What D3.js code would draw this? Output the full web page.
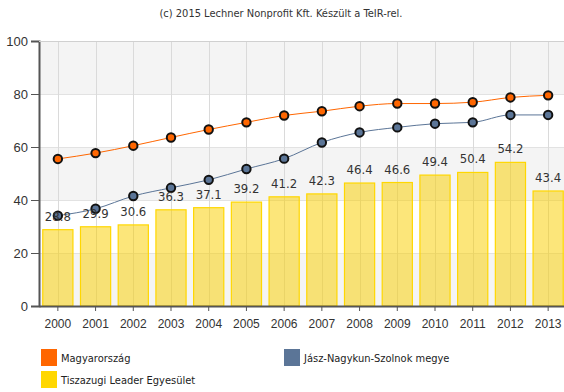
<!DOCTYPE html>
<html>
<head>
<meta charset="utf-8">
<script src="https://cdn.jsdelivr.net/npm/d3@7/dist/d3.min.js"></script>
<style>
  html, body { margin: 0; padding: 0; background: #fff; }
  svg { display: block; font-family: "DejaVu Sans Condensed", "DejaVu Sans", sans-serif; }
</style>
</head>
<body>
<svg id="chart" width="564" height="392"></svg>
<script>
// Years on the x axis
const years = ["2000","2001","2002","2003","2004","2005","2006","2007","2008","2009","2010","2011","2012","2013"];
// Bar series: Tiszazugi Leader Egyesület
const tiszazugi = [28.8, 29.9, 30.6, 36.3, 37.1, 39.2, 41.2, 42.3, 46.4, 46.6, 49.4, 50.4, 54.2, 43.4];
// Line series: Magyarország
const magyarorszag = [55.5, 57.7, 60.5, 63.6, 66.6, 69.3, 71.9, 73.5, 75.4, 76.4, 76.4, 76.9, 78.7, 79.5];
// Line series: Jász-Nagykun-Szolnok megye
const jasz = [34.1, 36.7, 41.5, 44.6, 47.6, 51.7, 55.6, 61.7, 65.5, 67.4, 68.8, 69.3, 72.1, 72.1];
// Y axis ticks
const yTicks = [0, 20, 40, 60, 80, 100];

const seriesNames = ["Magyarország", "Jász-Nagykun-Szolnok megye", "Tiszazugi Leader Egyesület"];
const colors = { orange: "#ff6600", blue: "#5b7597", yellow: "#ffd200" };

const svg = d3.select("#chart");
const plot = { left: 39, right: 567, top: 41, bottom: 306 };

const x = d3.scaleBand().domain(years).range([plot.left, plot.right]).paddingInner(0.2).paddingOuter(0.1);
const y = d3.scaleLinear().domain([0, 100]).range([plot.bottom, plot.top]);
const cx = d => x(d) + x.bandwidth() / 2;

// Alternating background bands
const bands = d3.pairs(yTicks).filter((p, i) => i % 2 === 0);
svg.append("g").selectAll("rect").data(bands).join("rect")
  .attr("x", plot.left).attr("width", plot.right - plot.left)
  .attr("y", d => y(d[1])).attr("height", d => y(d[0]) - y(d[1]))
  .attr("fill", "#f4f4f4");

// Grid lines
svg.append("g").selectAll("line").data(yTicks.slice(1)).join("line")
  .attr("x1", plot.left).attr("x2", plot.right)
  .attr("y1", d => y(d) + 0.5).attr("y2", d => y(d) + 0.5)
  .attr("stroke", "#e2e2e2").attr("stroke-width", 1);
svg.append("g").selectAll("line").data(years).join("line")
  .attr("x1", d => Math.round(cx(d)) + 0.5).attr("x2", d => Math.round(cx(d)) + 0.5)
  .attr("y1", plot.top).attr("y2", plot.bottom)
  .attr("stroke", "#dadada").attr("stroke-width", 1);

// Bars
svg.append("g").selectAll("rect").data(tiszazugi).join("rect")
  .attr("x", (d, i) => x(years[i]))
  .attr("width", x.bandwidth())
  .attr("y", d => y(d))
  .attr("height", d => y(0) - y(d))
  .attr("fill", "rgba(250,208,0,0.52)")
  .attr("stroke", "#ffd700").attr("stroke-width", 1.2);

// Lines and markers
const line = d3.line().x((d, i) => cx(years[i])).y(d => y(d)).curve(d3.curveMonotoneX);
[[magyarorszag, colors.orange], [jasz, colors.blue]].forEach(([vals, col]) => {
  svg.append("path").datum(vals).attr("d", line)
    .attr("fill", "none").attr("stroke", col).attr("stroke-width", 1);
  svg.append("g").selectAll("circle").data(vals).join("circle")
    .attr("cx", (d, i) => cx(years[i])).attr("cy", d => y(d)).attr("r", 4.2)
    .attr("fill", col).attr("stroke", "#111").attr("stroke-width", 2);
});

// Bar value labels
svg.append("g").selectAll("text").data(tiszazugi).join("text")
  .attr("x", (d, i) => cx(years[i])).attr("y", d => y(d) - 9)
  .attr("text-anchor", "middle").attr("font-size", 13).attr("fill", "#333")
  .text(d => d.toFixed(1));

// Axes
const yAxis = d3.axisLeft(y).tickValues(yTicks).tickSize(8).tickPadding(3);
const gy = svg.append("g").attr("transform", `translate(${plot.left},0)`).call(yAxis);
gy.select(".domain").attr("stroke", "#555").attr("stroke-width", 2);
gy.selectAll(".tick line").attr("stroke", "#555");
gy.selectAll(".tick text").attr("font-size", 13).attr("fill", "#333").attr("font-family", null);

const xAxis = d3.axisBottom(x).tickSize(5).tickPadding(8).tickSizeOuter(0);
const gx = svg.append("g").attr("transform", `translate(0,${plot.bottom})`).call(xAxis);
gx.select(".domain").attr("stroke", "#555").attr("stroke-width", 2);
gx.selectAll(".tick line").attr("stroke", "#555");
gx.selectAll(".tick text").attr("font-size", 12).attr("fill", "#333").attr("font-family", null);

// Top border of the plot area
svg.append("line").attr("x1", plot.left).attr("x2", 564).attr("y1", plot.top + 0.5).attr("y2", plot.top + 0.5)
  .attr("stroke", "#d0d0d0");

// Credit line
svg.append("text").attr("x", 281).attr("y", 17).attr("text-anchor", "middle")
  .attr("font-size", 11).attr("fill", "#333")
  .text("(c) 2015 Lechner Nonprofit Kft. Készült a TeIR-rel.");

// Legend
const legend = [
  { name: seriesNames[0], color: colors.orange, x: 41, y: 349 },
  { name: seriesNames[1], color: colors.blue, x: 284, y: 349 },
  { name: seriesNames[2], color: "#ffd700", x: 41, y: 371 }
];
const lg = svg.append("g").selectAll("g").data(legend).join("g")
  .attr("transform", d => `translate(${d.x},${d.y})`);
lg.append("rect").attr("width", 16).attr("height", 17).attr("fill", d => d.color);
lg.append("text").attr("x", 20).attr("y", 12.5).attr("font-size", 11).attr("fill", "#222")
  .text(d => d.name);
</script>
</body>
</html>
